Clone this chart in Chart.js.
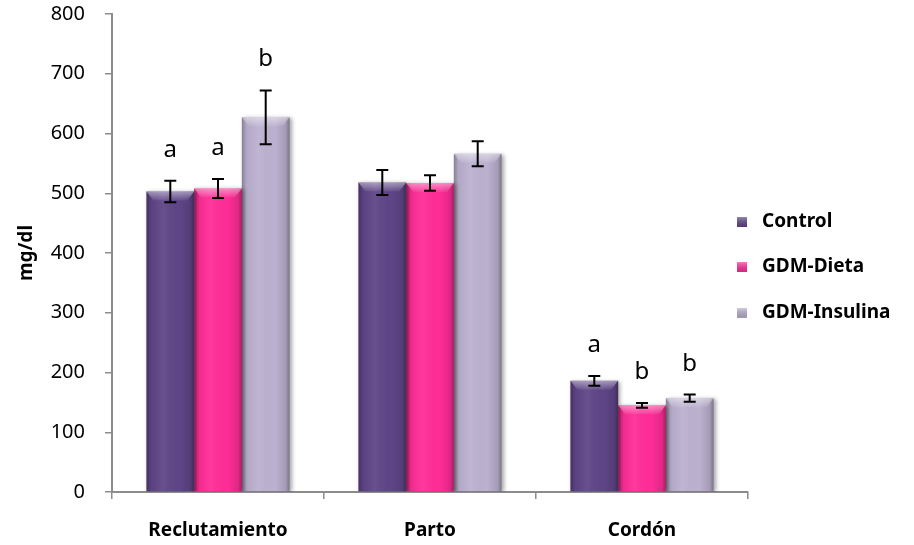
<!DOCTYPE html>
<html lang="es">
<head>
<meta charset="UTF-8">
<title>mg/dl por grupo</title>
<script src="https://cdn.jsdelivr.net/npm/chart.js"></script>
<style>
  html, body { margin: 0; padding: 0; background: #fff; }
  #wrap { width: 914px; height: 545px; }
</style>
</head>
<body>
<div id="wrap"><canvas id="chart" width="914" height="545"></canvas></div>
<script>
// datos
const categories = ['Reclutamiento', 'Parto', 'Cordón'];
const seriesNames = ['Control', 'GDM-Dieta', 'GDM-Insulina'];
const control = [503, 518, 186];
const dieta = [508, 517, 145];
const insulina = [627, 566, 157];
const controlErr = [18, 21, 8];
const dietaErr = [16, 13, 4];
const insulinaErr = [45, 21, 6];
const controlLetters = ['a', '', 'a'];
const dietaLetters = ['a', '', 'b'];
const insulinaLetters = ['b', '', 'b'];
const yTicks = [0, 100, 200, 300, 400, 500, 600, 700, 800];

const colors = ['#5f4587', '#ff2d97', '#bcb1d0'];
const errors = [controlErr, dietaErr, insulinaErr];
const letters = [controlLetters, dietaLetters, insulinaLetters];

// sombreado tipo cilindro + barras de error + letras + leyenda
const decorPlugin = {
  id: 'decor',
  beforeDatasetDraw(chart) {
    const ctx = chart.ctx;
    ctx.shadowColor = 'rgba(0,0,0,0.35)';
    ctx.shadowBlur = 4;
    ctx.shadowOffsetX = 2;
    ctx.shadowOffsetY = 1;
  },
  afterDatasetDraw(chart) {
    const ctx = chart.ctx;
    ctx.shadowColor = 'rgba(0,0,0,0)';
    ctx.shadowBlur = 0;
    ctx.shadowOffsetX = 0;
    ctx.shadowOffsetY = 0;
  },
  afterDatasetsDraw(chart) {
    const ctx = chart.ctx;
    const yScale = chart.scales.y;
    ctx.save();
    chart.data.datasets.forEach((ds, di) => {
      const meta = chart.getDatasetMeta(di);
      meta.data.forEach((bar, i) => {
        const { x, y, base, width } = bar.getProps(['x', 'y', 'base', 'width'], true);
        const l = x - width / 2, r = x + width / 2;
        // sombreado horizontal
        const g = ctx.createLinearGradient(l, 0, r, 0);
        g.addColorStop(0, 'rgba(0,0,0,0.28)');
        g.addColorStop(0.1, 'rgba(0,0,0,0.05)');
        g.addColorStop(0.35, 'rgba(255,255,255,0.06)');
        g.addColorStop(0.7, 'rgba(0,0,0,0.0)');
        g.addColorStop(0.92, 'rgba(0,0,0,0.12)');
        g.addColorStop(1, 'rgba(0,0,0,0.35)');
        ctx.fillStyle = g;
        ctx.fillRect(l, y, width, base - y);
        // bisel superior
        const bh = 9;
        const g2 = ctx.createLinearGradient(0, y, 0, y + bh);
        g2.addColorStop(0, 'rgba(255,255,255,0.45)');
        g2.addColorStop(1, 'rgba(255,255,255,0.05)');
        ctx.fillStyle = g2;
        ctx.beginPath();
        ctx.moveTo(l, y);
        ctx.lineTo(r, y);
        ctx.lineTo(r - 7, y + bh);
        ctx.lineTo(l + 7, y + bh);
        ctx.closePath();
        ctx.fill();

        // barra de error
        const v = ds.data[i];
        const e = errors[di][i];
        const yt = yScale.getPixelForValue(v + e);
        const yb = yScale.getPixelForValue(v - e);
        ctx.strokeStyle = '#000';
        ctx.lineWidth = 2;
        ctx.beginPath();
        ctx.moveTo(x, yt); ctx.lineTo(x, yb);
        ctx.moveTo(x - 6, yt); ctx.lineTo(x + 6, yt);
        ctx.moveTo(x - 6, yb); ctx.lineTo(x + 6, yb);
        ctx.stroke();

        // letra de significancia
        const t = letters[di][i];
        if (t) {
          ctx.fillStyle = '#000';
          ctx.font = '24px "Noto Sans"';
          ctx.textAlign = 'center';
          ctx.textBaseline = 'alphabetic';
          ctx.fillText(t, x, yt - 24);
        }
      });
    });

    // leyenda
    const lx = 737;
    const ly = [222, 267, 313];
    chart.data.datasets.forEach((ds, di) => {
      const cy = ly[di];
      ctx.fillStyle = ds.backgroundColor;
      ctx.fillRect(lx, cy - 5, 10, 10);
      const g3 = ctx.createLinearGradient(0, cy - 5, 0, cy + 5);
      g3.addColorStop(0, 'rgba(255,255,255,0.35)');
      g3.addColorStop(1, 'rgba(0,0,0,0.15)');
      ctx.fillStyle = g3;
      ctx.fillRect(lx, cy - 5, 10, 10);
      ctx.fillStyle = '#000';
      ctx.font = 'bold 19px "Noto Sans"';
      ctx.textAlign = 'left';
      ctx.textBaseline = 'middle';
      ctx.fillText(ds.label, 762, cy);
    });
    ctx.restore();
  }
};

new Chart(document.getElementById('chart'), {
  type: 'bar',
  data: {
    labels: categories,
    datasets: [
      { label: seriesNames[0], data: control, backgroundColor: colors[0] },
      { label: seriesNames[1], data: dieta, backgroundColor: colors[1] },
      { label: seriesNames[2], data: insulina, backgroundColor: colors[2] }
    ]
  },
  options: {
    responsive: false,
    animation: false,
    layout: { padding: { left: 0, right: 166, top: 14, bottom: 0 } },
    datasets: { bar: { barPercentage: 1, categoryPercentage: 0.675 } },
    plugins: { legend: { display: false }, tooltip: { enabled: false } },
    scales: {
      x: {
        grid: { offset: true, drawOnChartArea: false, drawTicks: true, tickLength: 7, color: '#8c8c8c', lineWidth: 1.5 },
        border: { color: '#8c8c8c', width: 2 },
        ticks: { color: '#000', font: { family: 'Noto Sans', size: 19, weight: 'bold' }, padding: 20 },
        afterFit(scale) { scale.height = 53; scale.paddingLeft = 0; scale.paddingRight = 0; }
      },
      y: {
        min: 0,
        max: 800,
        afterBuildTicks(scale) { scale.ticks = yTicks.map(v => ({ value: v })); },
        grid: { drawOnChartArea: false, drawTicks: true, tickLength: 7, color: '#8c8c8c', lineWidth: 1.5 },
        border: { color: '#8c8c8c', width: 2 },
        ticks: { color: '#000', font: { family: 'Noto Sans', size: 20 }, padding: 20 },
        title: { display: true, text: 'mg/dl', color: '#000', font: { family: 'Noto Sans', size: 19, weight: 'bold' }, padding: { top: 15, bottom: 0 } },
        afterFit(scale) { scale.width = 112; scale.paddingTop = 14; scale.paddingBottom = 0; }
      }
    }
  },
  plugins: [decorPlugin]
});
</script>
</body>
</html>
